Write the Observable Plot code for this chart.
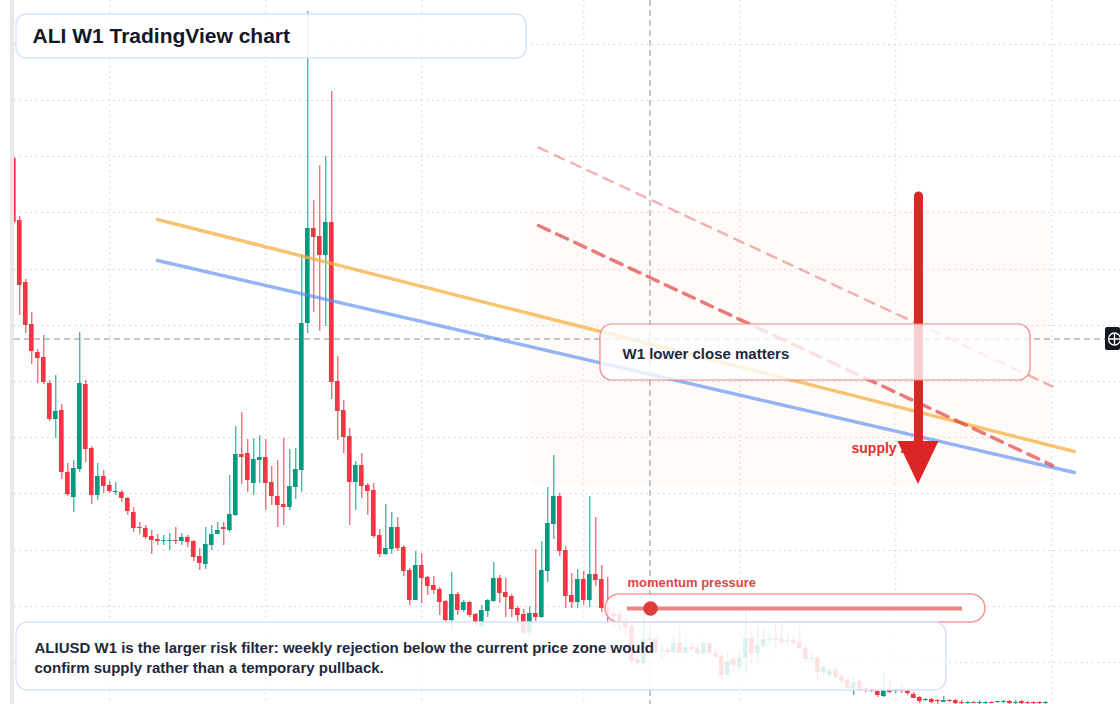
<!DOCTYPE html>
<html><head><meta charset="utf-8">
<script src="https://cdn.jsdelivr.net/npm/d3@7"></script>
<script src="https://cdn.jsdelivr.net/npm/@observablehq/plot@0.6"></script>
<style>html,body{margin:0;padding:0;background:#fff;} #chart svg{display:block;}</style>
</head><body><div id="chart"></div>
<script>
// ALIUSD weekly candles (index = week number), prices
const open = [
.562,.500,.438,.396,.368,.363,.337,.301,.310,.248,
.223,.251,.336,.272,.225,.244,.235,.228,.228,.222,
.208,.193,.192,.184,.181,.179,.179,.180,.179,.183,
.179,.164,.156,.175,.186,.193,.190,.205,.266,.267,
.237,.260,.263,.238,.224,.216,.213,.233,.250,.397,
.492,.484,.465,.498,.339,.310,.284,.238,.255,.235,
.230,.185,.166,.171,.193,.173,.150,.120,.155,.143,
.135,.131,.119,.100,.126,.110,.118,.106,.094,.109,
.119,.142,.128,.124,.112,.106,.087,.107,.103,.149,
.196,.224,.170,.125,.118,.141,.120,.146,.141,.113,
.107,.106,.097,.094,.061,.057,.082,.081,.069,.070,
.068,.077,.067,.073,.072,.066,.077,.067,.064,.045,
.061,.054,.062,.082,.067,.074,.080,.082,.081,.079,
.080,.078,.072,.061,.062,.048,.045,.050,.044,.040,
.032,.039,.032,.031,.029,.024,.031,.029,.030,.030,
.026,.023,.020,.021,.020,.018,.020,.020,.018,.017,
.018,.017,.017,.018,.018,.018,.019,.017,.019,.018,
.018,.018,.017];
const high = [
.564,.504,.441,.408,.371,.385,.340,.345,.316,.257,
.260,.388,.340,.274,.257,.250,.239,.238,.230,.223,
.213,.198,.195,.190,.186,.185,.187,.193,.187,.185,
.180,.172,.193,.195,.198,.198,.245,.294,.308,.281,
.282,.285,.281,.254,.260,.282,.271,.272,.466,.709,
.520,.555,.564,.629,.364,.320,.292,.259,.267,.237,
.237,.191,.216,.208,.203,.175,.152,.169,.167,.144,
.144,.133,.120,.148,.128,.120,.119,.107,.115,.121,
.158,.145,.142,.126,.114,.111,.114,.171,.179,.233,
.265,.227,.174,.147,.151,.149,.224,.203,.155,.143,
.113,.110,.102,.098,.065,.113,.093,.083,.077,.073,
.083,.094,.082,.077,.077,.082,.078,.072,.068,.068,
.063,.070,.112,.090,.094,.091,.087,.098,.100,.086,
.083,.094,.074,.067,.064,.055,.052,.053,.046,.043,
.043,.040,.034,.032,.030,.048,.040,.032,.037,.031,
.028,.024,.022,.022,.021,.024,.021,.021,.020,.019,
.019,.020,.019,.019,.019,.020,.020,.020,.020,.019,
.019,.019,.019];
const low = [
.496,.405,.387,.356,.337,.336,.299,.282,.241,.224,
.208,.248,.258,.216,.220,.227,.227,.225,.218,.205,
.188,.186,.181,.166,.175,.175,.170,.176,.175,.173,
.159,.150,.151,.170,.186,.175,.188,.204,.236,.228,
.225,.237,.210,.215,.193,.195,.210,.221,.228,.387,
.408,.389,.394,.321,.280,.267,.195,.210,.222,.205,
.182,.163,.165,.166,.169,.144,.115,.120,.117,.125,
.126,.105,.098,.090,.105,.108,.103,.093,.092,.103,
.118,.117,.103,.103,.099,.085,.083,.099,.102,.138,
.181,.164,.112,.112,.112,.115,.113,.134,.108,.098,
.093,.090,.083,.056,.054,.055,.078,.067,.060,.067,
.067,.067,.066,.068,.065,.065,.066,.062,.042,.044,
.048,.047,.047,.057,.057,.072,.077,.070,.077,.075,
.075,.071,.058,.058,.040,.043,.043,.041,.037,.031,
.025,.029,.028,.028,.023,.023,.027,.027,.027,.025,
.022,.017,.019,.017,.016,.018,.018,.016,.016,.016,
.017,.016,.016,.017,.017,.017,.016,.016,.016,.016,
.016,.016,.016];
const close = [
.498,.435,.395,.369,.362,.338,.301,.309,.248,.226,
.252,.337,.271,.225,.244,.234,.229,.229,.222,.209,
.192,.192,.183,.180,.179,.180,.180,.179,.183,.178,
.163,.157,.176,.186,.190,.191,.206,.266,.263,.240,
.261,.263,.237,.224,.215,.213,.234,.251,.397,.492,
.483,.465,.498,.338,.309,.283,.238,.255,.234,.229,
.184,.166,.172,.193,.172,.149,.120,.155,.142,.134,
.130,.118,.100,.126,.110,.118,.105,.098,.110,.120,
.142,.127,.123,.111,.105,.087,.107,.103,.150,.197,
.224,.169,.124,.118,.141,.120,.146,.140,.112,.107,
.104,.097,.093,.059,.057,.081,.080,.068,.070,.068,
.077,.067,.073,.071,.067,.077,.067,.063,.045,.059,
.055,.062,.082,.067,.075,.081,.081,.080,.078,.080,
.077,.072,.061,.062,.048,.053,.050,.043,.039,.032,
.038,.030,.030,.029,.025,.030,.028,.030,.029,.027,
.022,.019,.021,.018,.019,.020,.019,.017,.017,.018,
.017,.018,.018,.017,.019,.019,.017,.018,.017,.017,
.017,.017,.018];

// grid ticks
const timeTicks = [16, 42, 68, 95, 121, 147, 173];
const priceTicks = [.058,.114,.170,.227,.283,.339,.395,.451,.508,.564,.620,.676];

// drawn levels (week index, price)
const orangeTrend = [[23.95, .501], [176.78, .269]];
const blueTrend = [[23.95, .460], [176.78, .248]];
const supplyDash = [[87.45, .495], [173.12, .255]];
const supplyDashUpper = [[87.45, .573], [173.12, .334]];
const crosshairPrice = .3815;
const crosshairWeek = 106.03;
const supplyZone = {week1: 85.62, week2: 172.78, top: .510, bottom: .235};
const arrowPath = {week: 150.78, from: .524, headTop: .279, tip: .236, halfWidth: 3.42};

// texts
const titleText = "ALI W1 TradingView chart";
const calloutText = "W1 lower close matters";
const zoneText = "supply zone";
const momentumText = "momentum pressure";
const noteLines = [
  "ALIUSD W1 is the larger risk filter: weekly rejection below the current price zone would",
  "confirm supply rather than a temporary pullback."
];

const candles = open.map((o, i) => ({i, open: o, high: high[i], low: low[i], close: close[i], up: close[i] >= o}));
const UP = "#089981", DOWN = "#f23645";
const FONT = "'Liberation Sans', Arial, Helvetica, sans-serif";
const X0 = -2.2167, X1 = 184.45, Y0 = 0.016, Y1 = 0.72;
const pt = a => a.map(([x, y]) => ({x, y}));

const headPts = [
  {x: arrowPath.week - arrowPath.halfWidth, y1: arrowPath.headTop, y2: arrowPath.headTop},
  {x: arrowPath.week, y1: arrowPath.headTop, y2: arrowPath.tip},
  {x: arrowPath.week + arrowPath.halfWidth, y1: arrowPath.headTop, y2: arrowPath.headTop}
];

const chart = Plot.plot({
  width: 1120, height: 704,
  marginTop: 0, marginRight: 0, marginBottom: 0, marginLeft: 0,
  x: {domain: [X0, X1], axis: null},
  y: {domain: [Y0, Y1], axis: null},
  style: {fontFamily: FONT, background: "#ffffff", overflow: "hidden"},
  marks: [
    // grid
    Plot.ruleY(priceTicks.map(y => ({y, x1: 0.117, x2: X1})), {y: "y", x1: "x1", x2: "x2", stroke: "#cfcfcf", strokeDasharray: "1.5,4"}),
    Plot.ruleX(timeTicks, {stroke: "#cfcfcf", strokeDasharray: "1.5,4"}),
    // supply zone
    Plot.rect([supplyZone], {x1: "week1", x2: "week2", y1: "bottom", y2: "top", fill: "#f7e3d6", fillOpacity: 0.18, rx: 12}),
    // candles
    Plot.ruleX(candles, {x: "i", y1: "low", y2: "high", stroke: d => d.up ? UP : DOWN, strokeWidth: 1}),
    Plot.rect(candles, {x1: d => d.i - 0.39, x2: d => d.i + 0.39, y1: "open", y2: "close", fill: d => d.up ? UP : DOWN}),
    // crosshair
    Plot.ruleY([{y: crosshairPrice, x1: 0.117, x2: 181.95}], {y: "y", x1: "x1", x2: "x2", stroke: "#8e8e8e", strokeDasharray: "6,4", strokeWidth: 1}),
    Plot.ruleX([crosshairWeek], {stroke: "#8e8e8e", strokeDasharray: "6,4", strokeWidth: 1}),
    // trend lines
    Plot.line(pt(orangeTrend), {x: "x", y: "y", stroke: "#f5b041", strokeOpacity: 0.75, strokeWidth: 3.5}),
    Plot.line(pt(blueTrend), {x: "x", y: "y", stroke: "#5b8def", strokeOpacity: 0.65, strokeWidth: 3.5}),
    Plot.line(pt(supplyDashUpper), {x: "x", y: "y", stroke: "#dc2626", strokeOpacity: 0.35, strokeWidth: 2.5, strokeDasharray: "10,8"}),
    Plot.line(pt(supplyDash), {x: "x", y: "y", stroke: "#dc2626", strokeOpacity: 0.6, strokeWidth: 3.5, strokeDasharray: "12,8"}),
    // zone label and arrow
    Plot.text([zoneText], {x: 139.62, y: .272, text: d => d, textAnchor: "start", fontSize: 14, fontWeight: "bold", fill: "#e03131"}),
    Plot.ruleX([arrowPath], {x: "week", y1: "headTop", y2: "from", stroke: "#dc2626", strokeWidth: 9, strokeLinecap: "round"}),
    Plot.areaY(headPts, {x: "x", y1: "y1", y2: "y2", fill: "#dc2626"}),
    // callout box
    Plot.rect([{a: 97.78, b: 169.45, c: .340, d: .396}], {x1: "a", x2: "b", y1: "c", y2: "d", fill: "#ffffff", fillOpacity: 0.78, stroke: "#ef8686", strokeWidth: 1.2, rx: 12}),
    Plot.text([calloutText], {x: 101.45, y: .366, text: d => d, textAnchor: "start", fontSize: 15, fontWeight: "bold", fill: "#1e293b"}),
    // momentum gauge
    Plot.rect([{a: 98.62, b: 161.95, c: .098, d: .126}], {x1: "a", x2: "b", y1: "c", y2: "d", fill: "#ffffff", fillOpacity: 0.85, stroke: "#ef9a9a", strokeWidth: 1.5, rx: 14}),
    Plot.ruleY([{y: .112, x1: 102.28, x2: 158.12}], {y: "y", x1: "x1", x2: "x2", stroke: "#e88585", strokeWidth: 4}),
    Plot.dot([{x: 106.12, y: .112}], {x: "x", y: "y", r: 7, fill: "#e03a3a", stroke: "#e03a3a", strokeOpacity: 0.5, strokeWidth: 1}),
    Plot.text([momentumText], {x: 102.28, y: .138, text: d => d, textAnchor: "start", fontSize: 13, fontWeight: "bold", fill: "#e04646"}),
    // note box
    Plot.rect([{a: 0.45, b: 155.45, c: .030, d: .098}], {x1: "a", x2: "b", y1: "c", y2: "d", fill: "#ffffff", fillOpacity: 0.86, stroke: "#d6e3fb", strokeWidth: 1.5, rx: 12}),
    Plot.text(noteLines, {x: 3.45, y: (d, i) => i === 0 ? .072 : .052, text: d => d, textAnchor: "start", fontSize: 15, fontWeight: "bold", fill: "#1e293b"}),
    // title box
    Plot.rect([{a: 0.45, b: 85.45, c: .662, d: .706}], {x1: "a", x2: "b", y1: "c", y2: "d", fill: "#ffffff", fillOpacity: 0.88, stroke: "#d6e3fb", strokeWidth: 1.5, rx: 10}),
    Plot.text([titleText], {x: 3.12, y: .684, text: d => d, textAnchor: "start", fontSize: 21, fontWeight: "bold", fill: "#111827"}),
    // left price-scale edge
    Plot.rect([{a: -0.55, b: 0.117}], {x1: "a", x2: "b", y1: Y0, y2: Y1, fill: "#e8e8e8"}),
    // crosshair label box with a circled-plus icon
    Plot.rect([{a: 181.95, b: X1, c: .370, d: .393}], {x1: "a", x2: "b", y1: "c", y2: "d", fill: "#131722", rx: 2}),
    Plot.dot([{x: 183.45, y: crosshairPrice}], {x: "x", y: "y", r: 6, fill: "none", stroke: "#ffffff", strokeWidth: 1.3}),
    Plot.dot([{x: 183.45, y: crosshairPrice}], {x: "x", y: "y", r: 3.6, symbol: "plus", stroke: "#ffffff", strokeWidth: 1.3})
  ]
});
document.getElementById("chart").appendChild(chart);
</script>
</body></html>
